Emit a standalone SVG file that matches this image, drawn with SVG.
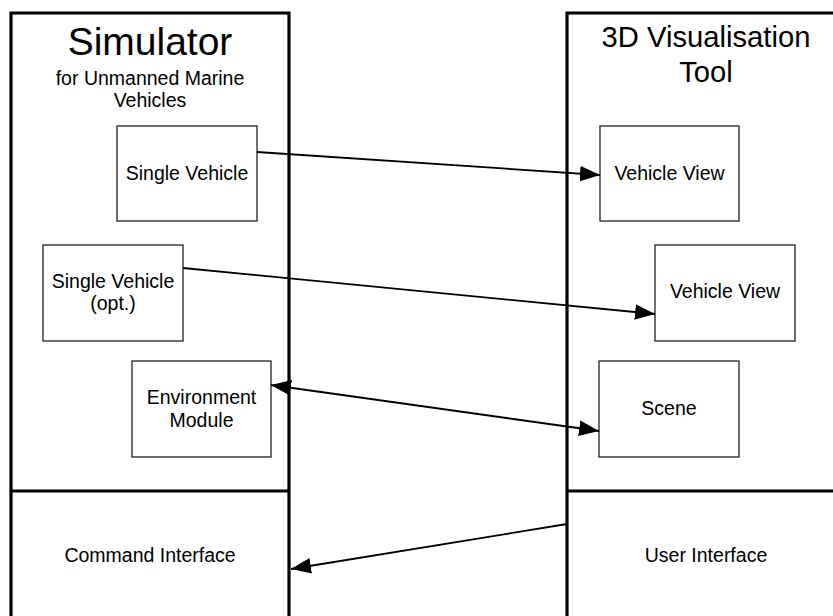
<svg xmlns="http://www.w3.org/2000/svg" width="833" height="616" viewBox="0 0 833 616">
<defs>
<style>
.frame{fill:none;stroke:#000;stroke-width:3.2}
.box{fill:#fff;stroke:#222;stroke-width:1.3}
.t{font-family:"Liberation Sans",Arial,sans-serif;fill:#000;text-anchor:middle}
.s{font-size:19.5px}
.conn{fill:none;stroke:#000;stroke-width:1.8}
</style>
<marker id="ah" markerUnits="userSpaceOnUse" markerWidth="20" markerHeight="16" viewBox="0 0 18 14" refX="18" refY="7" orient="auto-start-reverse">
<path d="M0,0 L18,7 L0,14 Z" fill="#000"/>
</marker>
</defs>
<rect width="833" height="616" fill="#fff"/>
<g id="simulator">
<path class="frame" d="M11,620 V13 H289 V620"/>
<line class="frame" x1="11" y1="491" x2="289" y2="491"/>
<text class="t" x="150" y="55" font-size="39">Simulator</text>
<text class="t s" x="150" y="85">for Unmanned Marine</text>
<text class="t s" x="150" y="107">Vehicles</text>
</g>
<g id="vistool">
<path class="frame" d="M567,620 V13 H840"/>
<line class="frame" x1="567" y1="491" x2="840" y2="491"/>
<text class="t" x="706" y="47" font-size="29.2">3D Visualisation</text>
<text class="t" x="706" y="82" font-size="29.2">Tool</text>
</g>
<g id="single-vehicle">
<rect class="box" x="117" y="126" width="140" height="95"/>
<text class="t s" x="187" y="180">Single Vehicle</text>
</g>
<g id="single-vehicle-opt">
<rect class="box" x="43" y="245" width="140" height="96"/>
<text class="t s" x="113" y="288">Single Vehicle</text>
<text class="t s" x="113" y="310">(opt.)</text>
</g>
<g id="environment-module">
<rect class="box" x="132" y="361" width="139" height="96"/>
<text class="t s" x="201.5" y="404">Environment</text>
<text class="t s" x="201.5" y="427">Module</text>
</g>
<g id="vehicle-view-1">
<rect class="box" x="600" y="126" width="139" height="95"/>
<text class="t s" x="669.5" y="180">Vehicle View</text>
</g>
<g id="vehicle-view-2">
<rect class="box" x="655" y="245" width="140" height="96"/>
<text class="t s" x="725" y="298">Vehicle View</text>
</g>
<g id="scene">
<rect class="box" x="599" y="361" width="140" height="96"/>
<text class="t s" x="669" y="415">Scene</text>
</g>
<g id="command-interface">
<text class="t s" x="150" y="562">Command Interface</text>
</g>
<g id="user-interface">
<text class="t s" x="706" y="562">User Interface</text>
</g>
<g id="connectors">
<line class="conn" x1="257" y1="152" x2="600" y2="175" marker-end="url(#ah)"/>
<line class="conn" x1="183" y1="268" x2="655" y2="314" marker-end="url(#ah)"/>
<line class="conn" x1="271" y1="385" x2="599" y2="431" marker-start="url(#ah)" marker-end="url(#ah)"/>
<line class="conn" x1="567" y1="524" x2="291" y2="569" marker-end="url(#ah)"/>
</g>
</svg>
